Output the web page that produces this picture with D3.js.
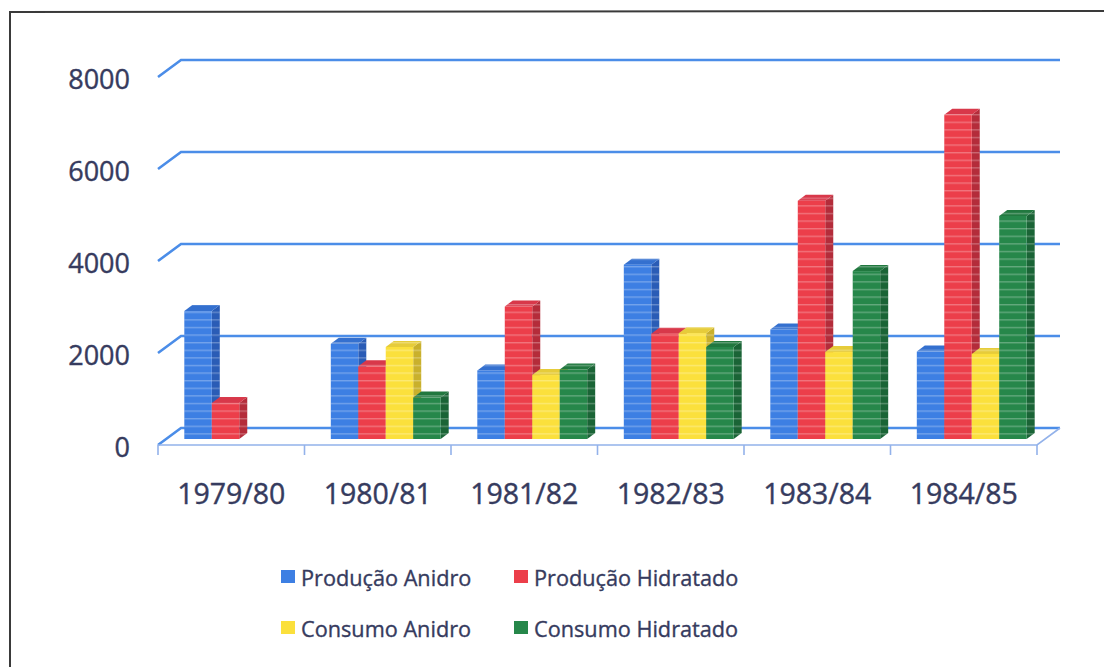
<!DOCTYPE html>
<html>
<head>
<meta charset="utf-8">
<script src="https://cdn.jsdelivr.net/npm/d3@7"></script>
<style>
  html, body { margin: 0; padding: 0; background: #ffffff; }
  svg { display: block; }
</style>
</head>
<body>
<svg id="chart" width="1104" height="667"></svg>
<script>
const categories = ["1979/80", "1980/81", "1981/82", "1982/83", "1983/84", "1984/85"];
const seriesNames = ["Produção Anidro", "Produção Hidratado", "Consumo Anidro", "Consumo Hidratado"];
const producaoAnidro    = [2780, 2070, 1490, 3790, 2380, 1900];
const producaoHidratado = [780, 1580, 2880, 2290, 5180, 7050];
const consumoAnidro     = [null, 2000, 1390, 2300, 1890, 1850];
const consumoHidratado  = [null, 900, 1510, 2000, 3650, 4850];
const yTicks = [0, 2000, 4000, 6000, 8000];

const seriesValues = [producaoAnidro, producaoHidratado, consumoAnidro, consumoHidratado];
const colors = [
  {front: "#3d7fe3", side: "#2a5cb6", top: "#3470cf"},
  {front: "#ec3e4a", side: "#b42c3a", top: "#d8384a"},
  {front: "#fbe03c", side: "#c9b02c", top: "#e6cc3a"},
  {front: "#26874a", side: "#1a6436", top: "#21783f"}
];

const svg = d3.select("#chart");
const textColor = "#363b5e";

// border
svg.append("path").attr("d", "M10,667 L10,12 L1104,11")
  .attr("fill", "none").attr("stroke", "#3a3a3a").attr("stroke-width", 2);

// 3D geometry
const DX = 23, DY = 17;          // floor depth (front -> back: +DX, -DY)
const backLeft = 181, backRight = 1060;
const yBack = d3.scaleLinear().domain([0, 8000]).range([428, 60]);
const xFront = d3.scaleBand().domain(categories).range([backLeft - DX, backRight - DX]);

// gridlines (side-wall stub + back wall)
svg.append("g").selectAll("path").data(yTicks).join("path")
  .attr("d", t => `M${backLeft - DX},${yBack(t) + DY} L${backLeft},${yBack(t)} L${backRight},${yBack(t)}`)
  .attr("fill", "none").attr("stroke", "#4b8de8").attr("stroke-width", 2.6);

// floor front edge and right edge
svg.append("path")
  .attr("d", `M${backLeft - DX},${yBack(0) + DY} L${backRight - DX},${yBack(0) + DY} L${backRight},${yBack(0)}`)
  .attr("fill", "none").attr("stroke", "#93b2ea").attr("stroke-width", 1.6);

// x ticks
const tickXs = categories.map(c => xFront(c)).concat([xFront.range()[1]]);
svg.append("g").selectAll("line").data(tickXs).join("line")
  .attr("x1", d => d).attr("x2", d => d)
  .attr("y1", yBack(0) + DY).attr("y2", yBack(0) + DY + 10)
  .attr("stroke", "#93b2ea").attr("stroke-width", 1.6);

// y labels
svg.append("g").selectAll("text").data(yTicks).join("text")
  .attr("x", 130).attr("y", t => yBack(t) + DY + 1)
  .attr("text-anchor", "end").attr("dominant-baseline", "central")
  .attr("font-family", "Open Sans, sans-serif").attr("font-size", 27)
  .attr("fill", textColor).attr("stroke", textColor).attr("stroke-width", 0.4)
  .text(t => t);

// category labels
svg.append("g").selectAll("text").data(categories).join("text")
  .attr("x", c => xFront(c) + xFront.bandwidth() / 2).attr("y", 493)
  .attr("text-anchor", "middle").attr("dominant-baseline", "central")
  .attr("font-family", "Open Sans, sans-serif").attr("font-size", 28.5)
  .attr("fill", textColor).attr("stroke", textColor).attr("stroke-width", 0.4)
  .text(c => c);

// stripe pattern (scan texture)
const defs = svg.append("defs");
const pat = defs.append("pattern").attr("id", "stripes").attr("patternUnits", "userSpaceOnUse")
  .attr("width", 8).attr("height", 7.6);
pat.append("rect").attr("x", 0).attr("y", 0).attr("width", 8).attr("height", 1.4)
  .attr("fill", "#ffffff").attr("opacity", 0.28);

// bars
const bdx = 8, bdy = 6;
const barBase = yBack(0) + 11;
const xBar = d3.scaleBand().domain(categories).range([backLeft - DX + 8, backRight - DX + 8])
  .paddingInner(0.25).paddingOuter(0.125);
const xSeries = d3.scaleBand().domain(d3.range(seriesNames.length)).range([0, xBar.bandwidth()]);
const yBar = d3.scaleLinear().domain([0, 8000]).range([barBase, barBase - (yBack(0) - yBack(8000))]);

const bars = [];
categories.forEach((c, i) => {
  seriesValues.forEach((vals, s) => {
    if (vals[i] != null) bars.push({c, s, v: vals[i]});
  });
});

const gBars = svg.append("g");
bars.forEach(b => {
  const x = xBar(b.c) + xSeries(b.s);
  const w = xSeries.bandwidth();
  const yt = yBar(b.v), yb = yBar(0);
  const col = colors[b.s];
  const g = gBars.append("g");
  g.append("path").attr("d", `M${x + w},${yb} L${x + w + bdx},${yb - bdy} L${x + w + bdx},${yt - bdy} L${x + w},${yt} Z`)
    .attr("fill", col.side);
  g.append("path").attr("d", `M${x},${yt} L${x + bdx},${yt - bdy} L${x + w + bdx},${yt - bdy} L${x + w},${yt} Z`)
    .attr("fill", col.top);
  g.append("rect").attr("x", x).attr("y", yt).attr("width", w).attr("height", yb - yt)
    .attr("fill", col.front);
  g.append("path").attr("d", `M${x},${yb} L${x},${yt} L${x + bdx},${yt - bdy} L${x + w + bdx},${yt - bdy} L${x + w + bdx},${yb - bdy} L${x + w},${yb} Z`)
    .attr("fill", "url(#stripes)");
});

// legend
const legendItems = [
  {name: seriesNames[0], s: 0, x: 281, y: 577},
  {name: seriesNames[1], s: 1, x: 514, y: 577},
  {name: seriesNames[2], s: 2, x: 281, y: 628},
  {name: seriesNames[3], s: 3, x: 514, y: 628}
];
const gl = svg.append("g");
legendItems.forEach(it => {
  gl.append("rect").attr("x", it.x).attr("y", it.y - 7).attr("width", 14).attr("height", 13)
    .attr("fill", colors[it.s].front);
  gl.append("text").attr("x", it.x + 20).attr("y", it.y)
    .attr("dominant-baseline", "central")
    .attr("font-family", "Open Sans, sans-serif").attr("font-size", 21.7)
    .attr("fill", textColor).attr("stroke", textColor).attr("stroke-width", 0.35)
    .text(it.name);
});
</script>
</body>
</html>
